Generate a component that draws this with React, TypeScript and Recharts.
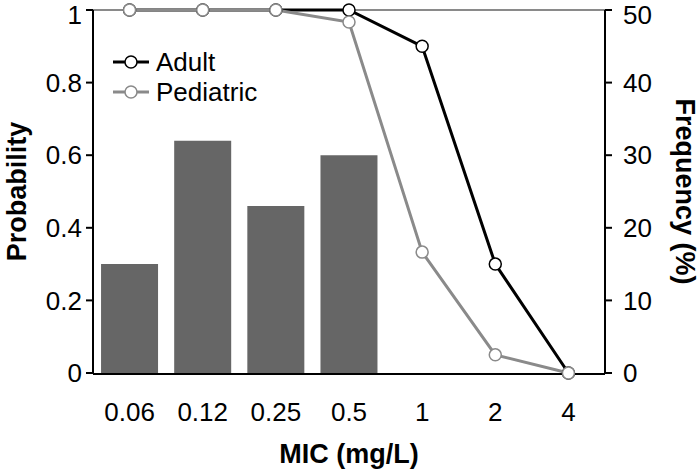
import * as React from "react";
import {
    ComposedChart,
    Bar,
    Line,
    XAxis,
    YAxis,
    Label,
    Legend,
    ReferenceLine,
} from "recharts";

// MIC categories (mg/L)
const micLabels = ["0.06", "0.12", "0.25", "0.5", "1", "2", "4"];
// frequency of isolates (%) - right axis
const frequency = [15, 32, 23, 30, null, null, null];
// probability of target attainment - left axis
const adult = [1, 1, 1, 1, 0.9, 0.3, 0];
const pediatric = [1, 1, 1, 0.967, 0.333, 0.05, 0];

const probTicks = [0, 0.2, 0.4, 0.6, 0.8, 1];
const freqTicks = [0, 10, 20, 30, 40, 50];
// category boundaries, where the x tick marks sit
const edgeTicks = [0, 1, 2, 3, 4, 5, 6, 7];

const FONT = "'Liberation Sans', Arial, sans-serif";
const ADULT_COLOR = "#000000";
const PED_COLOR = "#8a8a8a";
const BAR_COLOR = "#666666";

const tickStyle = { fontSize: 26, fill: "#000", fontFamily: FONT };
const titleStyle = { fontSize: 27, fontWeight: "bold", fill: "#000", fontFamily: FONT };

function LegendBox() {
    const rows = [
        { name: "Adult", color: ADULT_COLOR },
        { name: "Pediatric", color: PED_COLOR },
    ];
    return (
        <svg width={200} height={70} style={{ overflow: "visible" }}>
            {rows.map((r, i) => (
                <g key={r.name} transform={`translate(0, ${i * 30})`}>
                    <line x1={2} y1={12} x2={38} y2={12} stroke={r.color} strokeWidth={3} />
                    <circle cx={20} cy={12} r={6} fill="#fff" stroke={r.color} strokeWidth={1.5} />
                    <text x={45} y={21} fontSize={26} fontFamily={FONT} fill="#000">
                        {r.name}
                    </text>
                </g>
            ))}
        </svg>
    );
}

export default function App() {
    const data = micLabels.map((mic, i) => ({
        mic,
        freq: frequency[i],
        adult: adult[i],
        pediatric: pediatric[i],
    }));

    return (
        <div style={{ position: "absolute", left: 0, top: 0, width: 700, height: 470, background: "#fff" }}>
            <ComposedChart
                width={700}
                height={470}
                data={data}
                margin={{ top: 10, right: 0, bottom: 0, left: 0 }}
                barCategoryGap="11%"
            >
                <XAxis
                    xAxisId="edges"
                    type="number"
                    domain={[0, 7]}
                    ticks={edgeTicks}
                    height={1}
                    tick={false}
                    tickSize={7}
                    axisLine={false}
                    tickLine={{ stroke: "#000", strokeWidth: 2 }}
                />
                <XAxis
                    xAxisId="main"
                    dataKey="mic"
                    height={96}
                    tick={tickStyle}
                    tickSize={7}
                    tickMargin={22}
                    axisLine={{ stroke: "#000", strokeWidth: 2 }}
                    tickLine={false}
                    interval={0}
                >
                    <Label value="MIC (mg/L)" position="insideBottom" offset={7} style={titleStyle} />
                </XAxis>
                <YAxis
                    yAxisId="left"
                    orientation="left"
                    width={93}
                    domain={[0, 1]}
                    ticks={probTicks}
                    tick={tickStyle}
                    tickSize={7}
                    tickMargin={4}
                    axisLine={{ stroke: "#000", strokeWidth: 2 }}
                    tickLine={{ stroke: "#000", strokeWidth: 2 }}
                >
                    <Label
                        value="Probability"
                        angle={-90}
                        position="insideLeft"
                        offset={16}
                        style={{ ...titleStyle, textAnchor: "middle" }}
                    />
                </YAxis>
                <YAxis
                    yAxisId="right"
                    orientation="right"
                    width={95}
                    domain={[0, 50]}
                    ticks={freqTicks}
                    tick={{ ...tickStyle, textAnchor: "start" }}
                    tickSize={7}
                    tickMargin={11}
                    axisLine={{ stroke: "#000", strokeWidth: 2 }}
                    tickLine={{ stroke: "#000", strokeWidth: 2 }}
                >
                    <Label
                        value="Frequency (%)"
                        angle={90}
                        position="insideRight"
                        offset={14}
                        style={{ ...titleStyle, textAnchor: "middle" }}
                    />
                </YAxis>
                <ReferenceLine xAxisId="main" yAxisId="left" y={1} stroke={PED_COLOR} strokeWidth={2} />
                <Bar xAxisId="main" yAxisId="right" dataKey="freq" fill={BAR_COLOR} isAnimationActive={false} />
                <Line
                    xAxisId="main"
                    yAxisId="left"
                    dataKey="adult"
                    stroke={ADULT_COLOR}
                    strokeWidth={3}
                    dot={{ r: 6, fill: "#fff", stroke: ADULT_COLOR, strokeWidth: 1.5 }}
                    isAnimationActive={false}
                />
                <Line
                    xAxisId="main"
                    yAxisId="left"
                    dataKey="pediatric"
                    stroke={PED_COLOR}
                    strokeWidth={3}
                    dot={{ r: 6, fill: "#fff", stroke: PED_COLOR, strokeWidth: 1.5 }}
                    isAnimationActive={false}
                />
                <Legend
                    layout="horizontal"
                    verticalAlign="middle"
                    align="center"
                    content={() => <LegendBox />}
                    wrapperStyle={{ top: 50, left: 111, width: 200, height: 70 }}
                />
            </ComposedChart>
        </div>
    );
}
